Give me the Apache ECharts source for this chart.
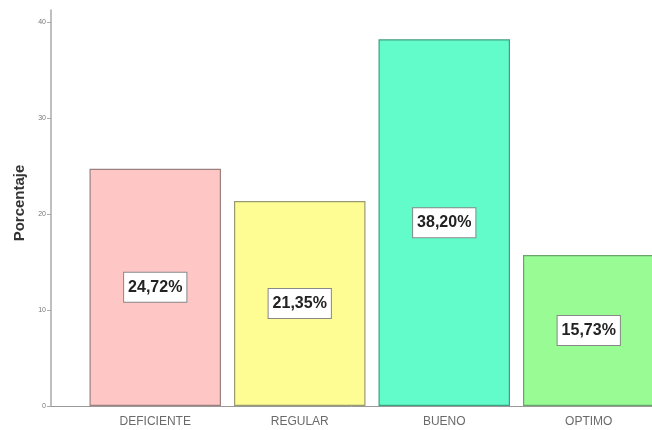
<!DOCTYPE html>
<html>
<head>
<meta charset="utf-8">
<script src="https://cdn.jsdelivr.net/npm/echarts@6/dist/echarts.min.js"></script>
<style>html,body{margin:0;padding:0;background:#fff}#c{width:652px;height:430px}</style>
</head>
<body>
<div id="c"></div>
<script>
const categories = ['DEFICIENTE', 'REGULAR', 'BUENO', 'OPTIMO'];
const values = [24.72, 21.35, 38.20, 15.73];
const yTicks = [0, 10, 20, 30, 40];
const colors = ['#ffc6c6', '#fdfd93', '#62fccb', '#98fb93'];
const borders = ['#9c8080', '#9a9a70', '#3f9f80', '#6aa46a'];

const chart = echarts.init(document.getElementById('c'), null, {renderer: 'canvas'});
chart.setOption({
  animation: false,
  backgroundColor: '#fff',
  grid: [
    {left: 83, width: 578, top: 10, bottom: 24, outerBoundsMode: 'none', containLabel: false},
    {left: 51, right: 0, top: 10, bottom: 24, outerBoundsMode: 'none', containLabel: false}
  ],
  xAxis: [
    {
      type: 'category', gridIndex: 0, data: categories,
      axisLine: {show: false}, axisTick: {show: false},
      axisLabel: {color: '#6a6a6a', fontSize: 12, margin: 10, fontFamily: 'Liberation Sans, sans-serif'}
    },
    {
      type: 'value', gridIndex: 1, min: 0, max: 1,
      axisLine: {show: true, onZero: false, lineStyle: {color: '#999', width: 1}},
      axisTick: {show: false}, axisLabel: {show: false}, splitLine: {show: false}
    }
  ],
  yAxis: [
    {
      type: 'value', gridIndex: 0, min: yTicks[0], max: 41.25, interval: 10, offset: 32,
      name: 'Porcentaje', nameLocation: 'middle', nameGap: 24, nameRotate: 90,
      nameTextStyle: {fontSize: 15, fontWeight: 'bold', color: '#333', fontFamily: 'Liberation Sans, sans-serif', padding: [0, 0, 0, 10]},
      axisLine: {show: true, lineStyle: {color: '#aaa', width: 1.5}},
      axisTick: {show: true, length: 4, lineStyle: {color: '#aaa'}},
      axisLabel: {color: '#777', fontSize: 7, margin: 5, showMaxLabel: false},
      splitLine: {show: false}
    },
    {
      type: 'value', gridIndex: 1, min: 0, max: 1, show: false
    }
  ],
  series: [{
    type: 'bar', xAxisIndex: 0, yAxisIndex: 0,
    barCategoryGap: '9%',
    data: values.map((v, i) => ({
      value: v,
      itemStyle: {color: colors[i], borderColor: borders[i], borderWidth: 1.2}
    })),
    label: {
      show: true, position: 'inside',
      formatter: p => p.value.toFixed(2).replace('.', ',') + '%',
      color: '#222', fontSize: 16, fontWeight: 'bold',
      fontFamily: 'Liberation Sans, sans-serif',
      backgroundColor: '#fff', borderColor: '#888', borderWidth: 1,
      padding: [7, 4, 6, 4]
    }
  }]
});
</script>
</body>
</html>
